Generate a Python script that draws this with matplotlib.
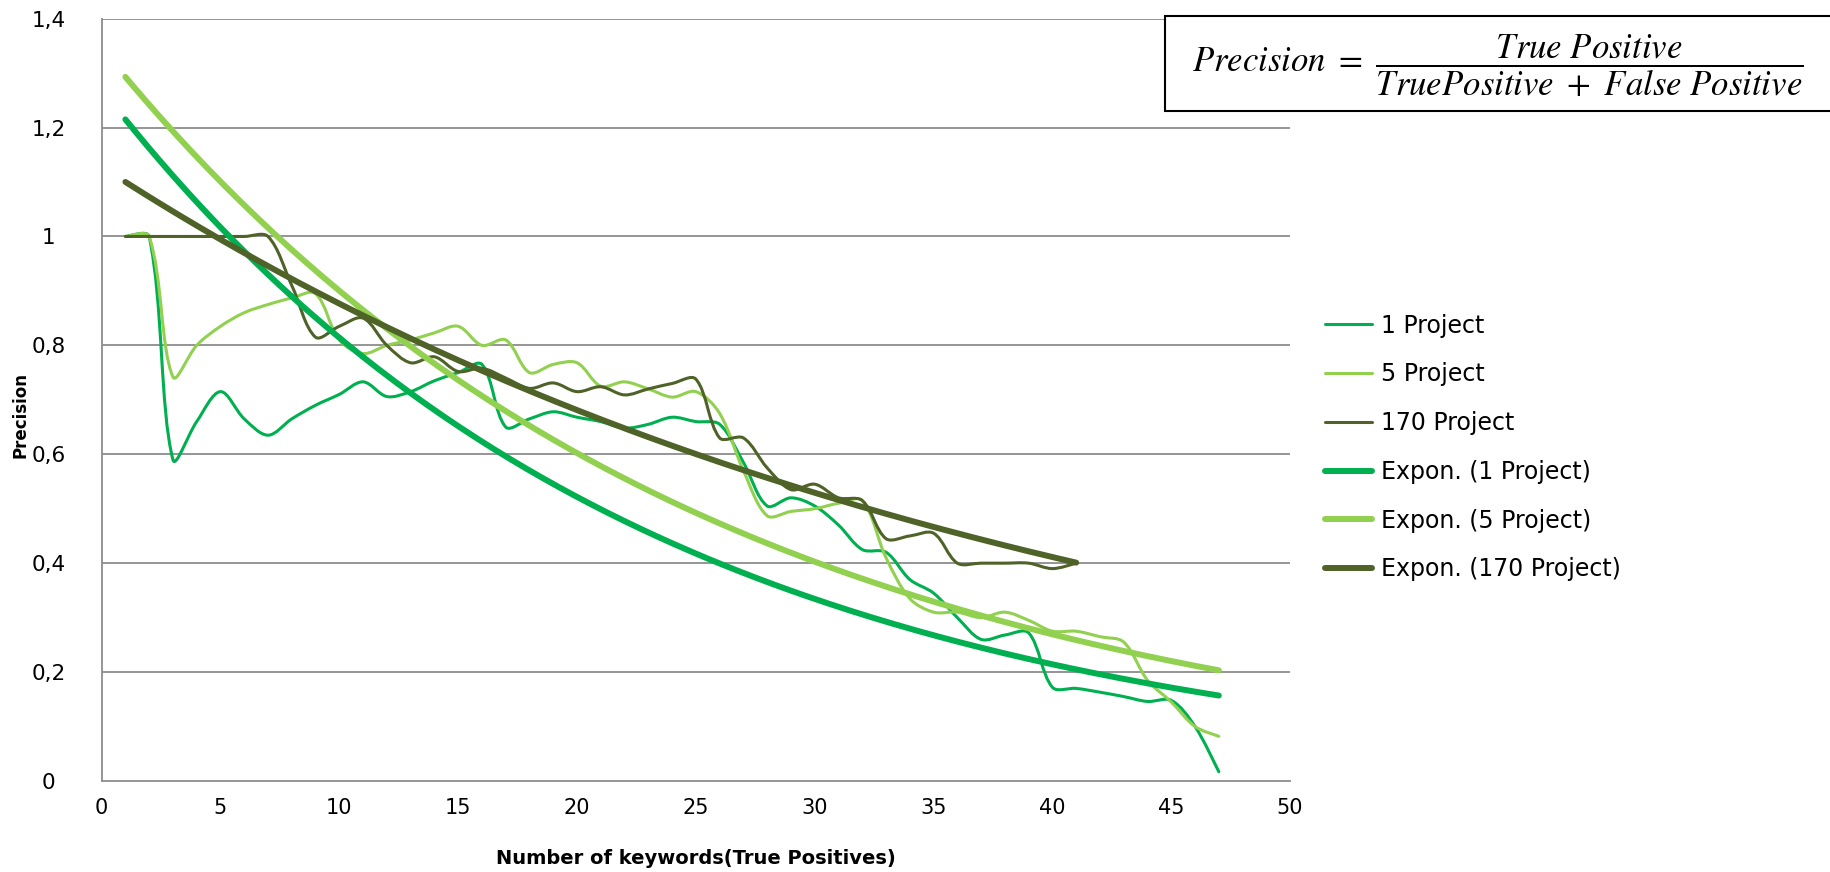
import matplotlib.pyplot as plt
import numpy as np
from matplotlib.path import Path
from matplotlib.patches import PathPatch, Rectangle
from matplotlib.lines import Line2D

# keywords (true positives) on x
x_1 = list(range(1, 48))
prec_1 = [1.0, 1.0, 0.59, 0.66, 0.715, 0.665, 0.635, 0.665, 0.69, 0.71,
          0.733, 0.706, 0.715, 0.735, 0.75, 0.765, 0.65, 0.665, 0.678, 0.668,
          0.66, 0.648, 0.655, 0.668, 0.66, 0.655, 0.585, 0.505, 0.52, 0.505,
          0.47, 0.425, 0.42, 0.37, 0.345, 0.30, 0.26, 0.268, 0.272, 0.172,
          0.17, 0.163, 0.155, 0.146, 0.148, 0.10, 0.017]

x_5 = list(range(1, 48))
prec_5 = [1.0, 1.0, 0.742, 0.80, 0.835, 0.86, 0.875, 0.887, 0.895, 0.81,
          0.785, 0.80, 0.81, 0.823, 0.835, 0.80, 0.81, 0.75, 0.765, 0.768,
          0.725, 0.733, 0.72, 0.705, 0.715, 0.675, 0.57, 0.487, 0.495, 0.50,
          0.51, 0.515, 0.41, 0.335, 0.31, 0.31, 0.30, 0.31, 0.295, 0.275,
          0.275, 0.265, 0.255, 0.185, 0.145, 0.10, 0.082]

x_170 = list(range(1, 42))
prec_170 = [1.0, 1.0, 1.0, 1.0, 1.0, 1.0, 1.0, 0.91, 0.815, 0.835,
            0.85, 0.80, 0.768, 0.779, 0.752, 0.758, 0.74, 0.721, 0.731, 0.715,
            0.724, 0.709, 0.72, 0.73, 0.738, 0.63, 0.63, 0.575, 0.535, 0.545,
            0.52, 0.515, 0.445, 0.45, 0.455, 0.40, 0.40, 0.40, 0.40, 0.39,
            0.40]

series_names = ['1 Project', '5 Project', '170 Project']
series_colors = ['#00B050', '#92D050', '#4F6228']

y_ticks = [0, 0.2, 0.4, 0.6, 0.8, 1.0, 1.2, 1.4]
y_tick_labels = ['0', '0,2', '0,4', '0,6', '0,8', '1', '1,2', '1,4']
x_ticks = [0, 5, 10, 15, 20, 25, 30, 35, 40, 45, 50]


def smooth_path(ax, xs, ys):
    # excel style smoothed line: bezier segments, tangents weighted by
    # chord length measured on screen
    p = ax.transData.transform(np.column_stack([xs, ys]).astype(float))
    n = len(p)
    verts = [p[0]]
    codes = [Path.MOVETO]
    for i in range(n - 1):
        p0 = p[i - 1] if i > 0 else p[i]
        p1 = p[i]
        p2 = p[i + 1]
        p3 = p[i + 2] if i + 2 < n else p[i + 1]
        d01 = np.hypot(*(p1 - p0))
        d12 = np.hypot(*(p2 - p1))
        d23 = np.hypot(*(p3 - p2))
        f1 = d12 / (d01 + d12) / 3 if d01 > 0 else 1 / 6
        f2 = d12 / (d12 + d23) / 3 if d23 > 0 else 1 / 6
        verts += [p1 + (p2 - p0) * f1, p2 - (p3 - p1) * f2, p2]
        codes += [Path.CURVE4] * 3
    verts = ax.transData.inverted().transform(np.array(verts))
    return Path(verts, codes)


fig = plt.figure(figsize=(18.31, 8.72), dpi=100)
ax = fig.add_axes([0.0555, 0.1044, 0.6491, 0.8742])
ax.set_xlim(0, 50)
ax.set_ylim(0, 1.4)

grid_col = '#8C8C8C'
for yt in y_ticks[1:]:
    ax.axhline(yt, color=grid_col, lw=1.3, zorder=1)

all_x = [x_1, x_5, x_170]
all_y = [prec_1, prec_5, prec_170]

for xs, ys, col in zip(all_x, all_y, series_colors):
    patch = PathPatch(smooth_path(ax, xs, ys), fill=False, edgecolor=col, lw=2.2,
                      capstyle='round', joinstyle='round', zorder=3)
    ax.add_patch(patch)

# exponential trend lines (least squares on log y, like excel)
for xs, ys, col in zip(all_x, all_y, series_colors):
    b, ln_a = np.polyfit(xs, np.log(ys), 1)
    xt = np.linspace(xs[0], xs[-1], 200)
    ax.plot(xt, np.exp(ln_a) * np.exp(b * xt), color=col, lw=4.3,
            solid_capstyle='round', zorder=4)

ax.set_xlim(0, 50)
ax.set_ylim(0, 1.4)
ax.set_xticks(x_ticks)
ax.set_xticklabels([str(t) for t in x_ticks], fontsize=15)
ax.set_yticks(y_ticks)
ax.set_yticklabels(y_tick_labels, fontsize=15.5)
for lab in ax.get_yticklabels():
    lab.set_horizontalalignment('center')
ax.tick_params(axis='y', length=0, pad=38)
ax.tick_params(axis='x', length=0, pad=12)

for s in ['top', 'right']:
    ax.spines[s].set_visible(False)
for s in ['left', 'bottom']:
    ax.spines[s].set_color(grid_col)
    ax.spines[s].set_linewidth(1.3)

fig.text(0.011, 0.5245, 'Precision', rotation=90, ha='center', va='center',
         fontsize=12, fontweight='bold')
fig.text(0.380, 0.016, 'Number of keywords(True Positives)', ha='center',
         va='center', fontsize=14, fontweight='bold')

handles = [Line2D([], [], color=c, lw=2.2, solid_capstyle='round') for c in series_colors]
handles += [Line2D([], [], color=c, lw=4.3, solid_capstyle='round') for c in series_colors]
labels = series_names + ['Expon. (%s)' % n for n in series_names]
fig.legend(handles, labels, loc='center left', bbox_to_anchor=(0.7237, 0.4868),
           frameon=False, fontsize=17, handlelength=2.0, handletextpad=0.38,
           labelspacing=1.05, borderpad=0, borderaxespad=0)

# formula box at top right
box = Rectangle((0.6363, 0.8727), 0.37, 0.109, transform=fig.transFigure,
                facecolor='white', edgecolor='black', lw=1.5, zorder=10)
fig.patches.append(box)
plt.rcParams['mathtext.fontset'] = 'stix'
fig.text(0.818, 0.9245,
         r'$Precision\ =\ \dfrac{True\ Positive}{TruePositive\ +\ False\ Positive}$',
         ha='center', va='center', fontsize=25, zorder=11)

fig.savefig('out.png', dpi=100)
